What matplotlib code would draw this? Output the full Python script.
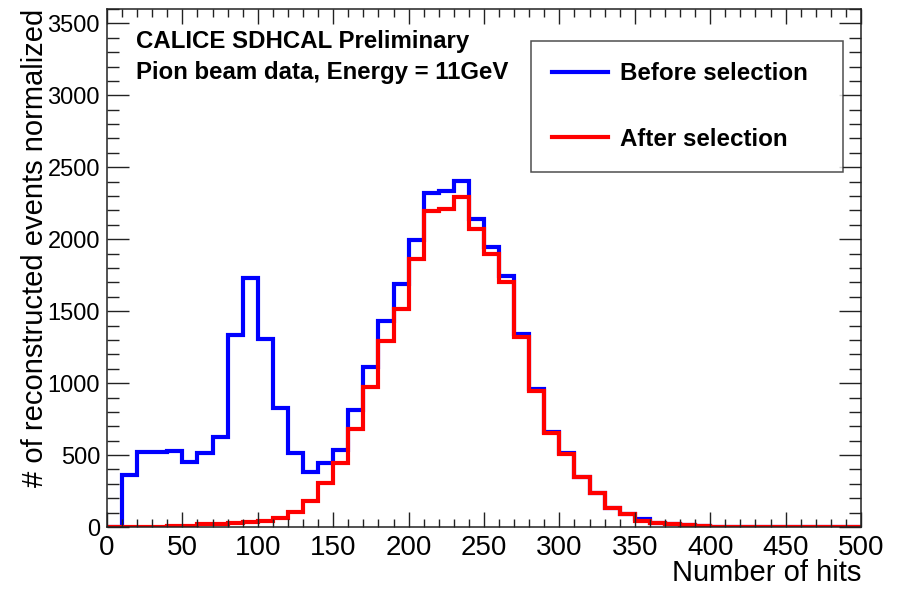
import numpy as np
import matplotlib
matplotlib.use("Agg")
import matplotlib.pyplot as plt
from matplotlib.ticker import MultipleLocator

plt.rcParams['font.family'] = ['Liberation Sans', 'DejaVu Sans']

# bin edges: 50 bins of 10 hits from 0 to 500
bin_edges = list(range(0, 510, 10))

# before selection (blue)
before_sel = [0, 362, 520, 520, 531, 455, 513, 624, 1336, 1730,
              1308, 826, 513, 380, 448, 536, 812, 1111, 1429, 1691,
              1997, 2322, 2334, 2408, 2141, 1944, 1742, 1343, 958, 659,
              513, 350, 234, 134, 88, 58, 30, 19, 12, 10,
              3, 3, 2, 2, 1, 1, 1, 1, 0, 0]

# after selection (red)
after_sel = [2, 2, 2, 2, 10, 10, 20, 20, 30, 32,
             42, 60, 102, 183, 305, 445, 678, 976, 1290, 1517,
             1865, 2194, 2211, 2294, 2074, 1898, 1703, 1317, 942, 656,
             510, 350, 234, 134, 88, 42, 30, 19, 12, 10,
             3, 3, 2, 2, 1, 1, 1, 1, 0, 0]

fig = plt.figure(figsize=(9.03, 5.89), dpi=100)
ax = fig.add_axes([107/903, 1-527/589, 754/903, 518/589])

ax.stairs(before_sel, bin_edges, baseline=None, color='#0000ff', lw=3.0,
          label='Before selection')
ax.stairs(after_sel, bin_edges, baseline=None, color='#ff0000', lw=3.0,
          label='After selection')

ax.set_xlim(0, 500)
ax.set_ylim(0, 3600)

# ticks like ROOT: inside, on all four sides
ax.xaxis.set_major_locator(MultipleLocator(50))
ax.xaxis.set_minor_locator(MultipleLocator(10))
ax.yaxis.set_major_locator(MultipleLocator(500))
ax.yaxis.set_minor_locator(MultipleLocator(100))
ax.tick_params(axis='both', which='both', direction='in', top=True, right=True,
               width=1.0, color='#222222')
ax.tick_params(axis='x', which='major', length=10.8, labelsize=20, pad=6)
ax.tick_params(axis='x', which='minor', length=5.5)
ax.tick_params(axis='y', which='major', length=16, labelsize=17, pad=5)
ax.tick_params(axis='y', which='minor', length=8.4)
for s in ax.spines.values():
    s.set_linewidth(1.1)
    s.set_color('#222222')

ax.set_xlabel("Number of hits", fontsize=21, loc='right', va='center')
ax.xaxis.set_label_coords(1.0, -0.089)
ax.set_ylabel("# of reconstructed events normalized", fontsize=21, loc='top',
              va='center')
ax.yaxis.set_label_coords(-0.0955, 1.0)

ax.text(0.039, 0.937, "CALICE SDHCAL Preliminary", transform=ax.transAxes,
        fontsize=17.3, fontweight='bold', va='center', ha='left')
ax.text(0.039, 0.877, "Pion beam data, Energy = 11GeV", transform=ax.transAxes,
        fontsize=17.3, fontweight='bold', va='center', ha='left')

leg = ax.legend(loc='upper left', bbox_to_anchor=(0.562, 0.6925, 0.4137, 0.2463),
                mode='expand', prop={'weight': 'bold', 'size': 17.4},
                frameon=True, fancybox=False, borderpad=0.9, labelspacing=1.75,
                handlelength=2.29, handletextpad=0.51, borderaxespad=0)
leg.get_frame().set_edgecolor('#222222')
leg.get_frame().set_linewidth(1.1)

fig.savefig("out.png", dpi=100)
